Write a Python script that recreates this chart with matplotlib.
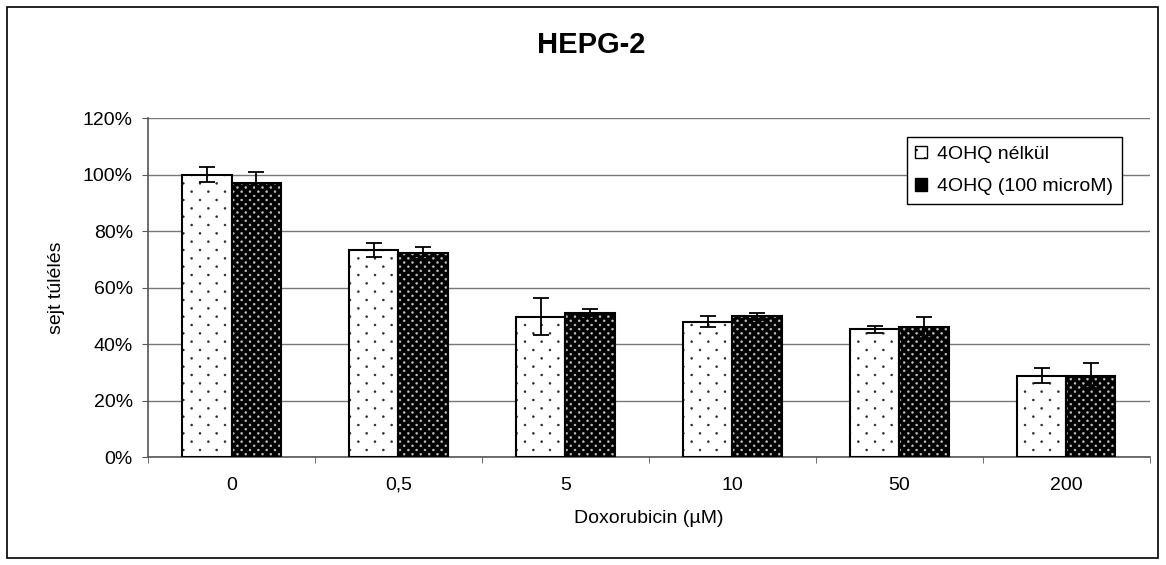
import matplotlib.pyplot as plt
import matplotlib.hatch as mhatch
import numpy as np
from matplotlib.path import Path
from matplotlib.patches import Rectangle, Patch

plt.rcParams['font.family'] = ['Liberation Sans', 'DejaVu Sans']
plt.rcParams['hatch.linewidth'] = 0.3

# adatok
kategoriak = ["0", "0,5", "5", "10", "50", "200"]
nelkul = [100, 73.3, 49.7, 47.9, 45.2, 28.8]
nelkul_err = [2.7, 2.5, 6.6, 1.9, 1.2, 2.7]
ohq = [97.0, 72.2, 51.1, 49.9, 46.0, 28.8]
ohq_err = [3.8, 2.0, 1.3, 1.2, 3.7, 4.5]
yticks = [0, 20, 40, 60, 80, 100, 120]


# eltolt soros potty-minta az 'O' helyett (sorok feleakkora tavolsagra)
class Pottyok(mhatch.HatchPatternBase):
    def __init__(self, hatch, density):
        n = hatch.count('O') * density
        self.pts = [((c + 0.5 * (r % 2)) / n, r / (2 * n))
                    for r in range(2 * n + 1) for c in range(n + 1)] if n else []
        self.kor = Path.unit_circle()
        self.num_vertices = len(self.pts) * len(self.kor.vertices)

    def set_vertices_and_codes(self, vertices, codes):
        m = len(self.kor.vertices)
        for i, p in enumerate(self.pts):
            vertices[i*m:(i+1)*m] = self.kor.vertices * 0.01 + p
            codes[i*m:(i+1)*m] = self.kor.codes


mhatch._hatch_types[mhatch._hatch_types.index(mhatch.LargeCircles)] = Pottyok

fig = plt.figure(figsize=(11.66, 5.65), dpi=100)
ax = fig.add_axes([0.127, 0.191, 0.859, 0.600])

x = np.arange(len(kategoriak))
w = 0.295

# kitoltes + minta (hatch a edgecolor szinet hasznalja)
ax.bar(x - w/2, nelkul, w, color="white", edgecolor="#222222", hatch="O", linewidth=0, zorder=2)
ax.bar(x + w/2, ohq, w, color="black", edgecolor="#c8c8c8", hatch="OO", linewidth=0, zorder=2)
# keret
ax.bar(x - w/2, nelkul, w, fill=False, edgecolor="black", linewidth=1.5, zorder=3)
ax.bar(x + w/2, ohq, w, fill=False, edgecolor="black", linewidth=1.5, zorder=3)
# hibak
ax.errorbar(x - w/2, nelkul, yerr=nelkul_err, fmt="none", ecolor="black", elinewidth=1.3, capsize=6, capthick=1.3, zorder=4)
ax.errorbar(x + w/2, ohq, yerr=ohq_err, fmt="none", ecolor="black", elinewidth=1.3, capsize=6, capthick=1.3, zorder=4)

ax.set_xlim(-0.5, len(kategoriak) - 0.5)
ax.set_ylim(0, 120)
ax.set_yticks(yticks)
ax.set_yticklabels([f"{v}%" for v in yticks], fontsize=14)
ax.set_xticks(x)
ax.set_xticklabels(kategoriak, fontsize=14)
ax.set_xticks(np.arange(len(kategoriak) + 1) - 0.5, minor=True)
ax.tick_params(axis="x", which="major", length=0, pad=14)
ax.tick_params(axis="x", which="minor", length=4, color="#555555", direction="out")
ax.tick_params(axis="y", length=4, color="#555555", direction="out", pad=7)
ax.yaxis.grid(True, color="#777777", linewidth=1.0, zorder=0)
ax.set_axisbelow(True)
for s in ["top", "right"]:
    ax.spines[s].set_visible(False)
for s in ["left", "bottom"]:
    ax.spines[s].set_color("#555555")
    ax.spines[s].set_linewidth(1.2)

ax.set_xlabel("Doxorubicin (µM)", fontsize=14, labelpad=12)
ax.set_ylabel("sejt túlélés", fontsize=14)
ax.yaxis.set_label_coords(-0.083, 0.5)
fig.text(0.507, 0.920, "HEPG-2", ha="center", va="center", fontsize=21, fontweight="bold")

h1 = Patch(facecolor="white", edgecolor="#222222", hatch="O", linewidth=1)
h2 = Patch(facecolor="black", edgecolor="#c8c8c8", hatch="O", linewidth=1)
leg = ax.legend([h1, h2], ["4OHQ nélkül", "4OHQ (100 microM)"], loc="upper right",
                bbox_to_anchor=(0.972, 0.944), borderaxespad=0, fontsize=14,
                fancybox=False, framealpha=1, edgecolor="black",
                handlelength=0.6, handleheight=0.6, handletextpad=0.5,
                labelspacing=0.8, borderpad=0.45)
leg.get_frame().set_linewidth(1.0)
for p in leg.get_patches():
    p.set_edgecolor("black")

fig.patches.append(Rectangle((0.006, 0.012), 0.987, 0.976, transform=fig.transFigure,
                             fill=False, edgecolor="black", linewidth=1.2))

fig.savefig("out.png", dpi=100)
